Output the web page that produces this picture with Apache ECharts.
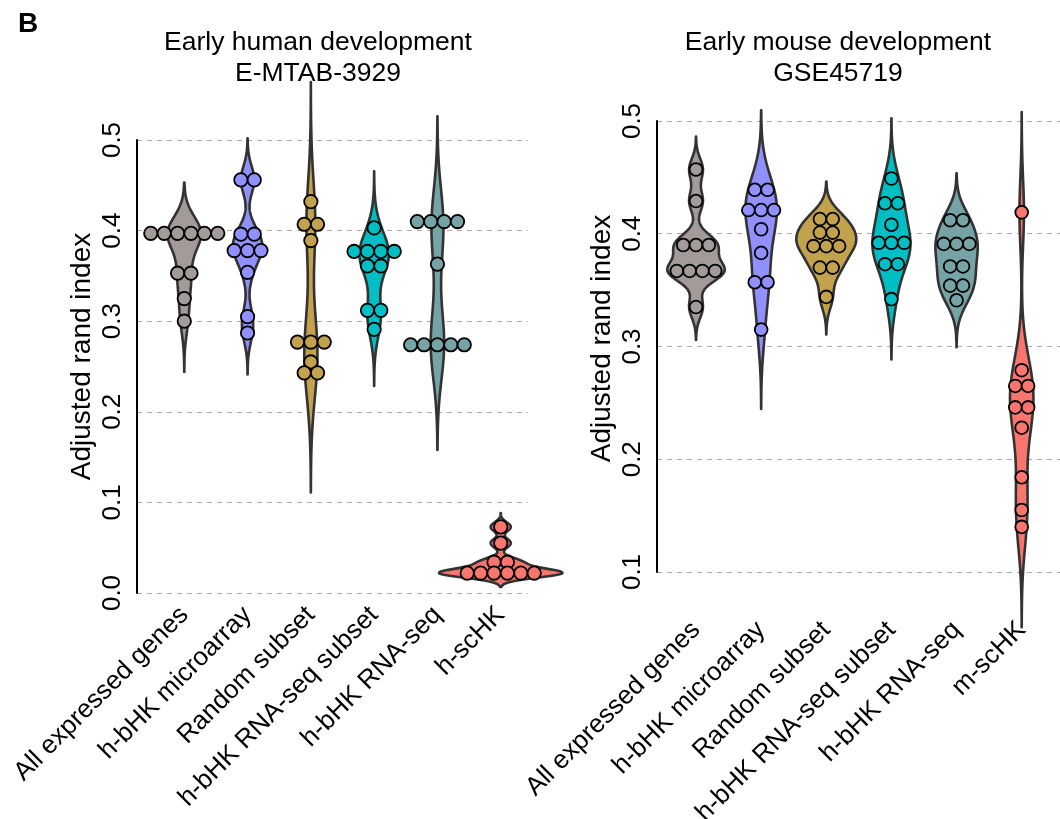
<!DOCTYPE html>
<html><head><meta charset="utf-8">
<script src="https://cdn.jsdelivr.net/npm/echarts@6/dist/echarts.min.js"></script>
<style>html,body{margin:0;padding:0;background:#fff}#c{width:1060px;height:819px}</style>
</head><body><div id="c"></div>
<script>
// ---------- data ----------
const humanCategories = ['All expressed genes','h-bHK microarray','Random subset','h-bHK RNA-seq subset','h-bHK RNA-seq','h-scHK'];
const mouseCategories = ['All expressed genes','h-bHK microarray','Random subset','h-bHK RNA-seq subset','h-bHK RNA-seq','m-scHK'];
const groupColors = ['#A39A9A','#9090FF','#C2A24C','#00BFC4','#76A4A6','#F8766D'];

const humanAllExpressed = [0.397,0.397,0.397,0.397,0.397,0.397,0.353,0.353,0.325,0.300];
const humanMicroarray   = [0.456,0.456,0.396,0.396,0.378,0.378,0.378,0.354,0.305,0.287];
const humanRandom       = [0.432,0.407,0.407,0.389,0.277,0.277,0.277,0.255,0.243,0.243];
const humanRnaSeqSubset = [0.403,0.377,0.377,0.377,0.377,0.361,0.361,0.312,0.312,0.291];
const humanRnaSeq       = [0.410,0.410,0.410,0.410,0.363,0.274,0.274,0.274,0.274,0.274];
const humanScHK         = [0.073,0.055,0.034,0.034,0.022,0.022,0.022,0.022,0.022,0.022];

const mouseAllExpressed = [0.457,0.429,0.390,0.390,0.390,0.367,0.367,0.367,0.367,0.335];
const mouseMicroarray   = [0.439,0.439,0.421,0.421,0.421,0.404,0.383,0.357,0.357,0.315];
const mouseRandom       = [0.413,0.413,0.401,0.401,0.389,0.389,0.389,0.370,0.370,0.344];
const mouseRnaSeqSubset = [0.449,0.427,0.427,0.408,0.392,0.392,0.392,0.373,0.373,0.342];
const mouseRnaSeq       = [0.412,0.412,0.391,0.391,0.391,0.371,0.371,0.354,0.354,0.341];
const mouseScHK         = [0.419,0.279,0.265,0.265,0.246,0.246,0.228,0.184,0.155,0.140];

const humanTitle = 'Early human development\nE-MTAB-3929';
const mouseTitle = 'Early mouse development\nGSE45719';
const yAxisTitle = 'Adjusted rand index';

// ---------- stats (ggplot2-like violin: gaussian KDE, nrd0 bandwidth, trim = FALSE) ----------
function q7(s, p){ const h=(s.length-1)*p, lo=Math.floor(h), hi=Math.min(lo+1,s.length-1); return s[lo]+(h-lo)*(s[hi]-s[lo]); }
function bwNrd0(x){
  const n=x.length, m=x.reduce((a,b)=>a+b,0)/n;
  const sd=Math.sqrt(x.reduce((a,b)=>a+(b-m)*(b-m),0)/(n-1));
  const s=[...x].sort((a,b)=>a-b);
  let lo=Math.min(sd,(q7(s,0.75)-q7(s,0.25))/1.34);
  if(!(lo>0)) lo = sd || Math.abs(s[0]) || 1;
  return 0.9*lo*Math.pow(n,-0.2);
}
function kde(x){
  const bw=bwNrd0(x), mn=Math.min(...x)-3*bw, mx=Math.max(...x)+3*bw, N=300, out=[];
  for(let i=0;i<N;i++){
    const y=mn+(mx-mn)*i/(N-1); let d=0;
    for(const v of x){ const u=(y-v)/bw; d+=Math.exp(-0.5*u*u); }
    out.push([y, d/(x.length*bw*Math.sqrt(2*Math.PI))]);
  }
  return out;
}
function dotItems(groups){
  const items=[];
  groups.forEach((g,i)=>{
    const counts=new Map();
    g.forEach(v=>counts.set(v,(counts.get(v)||0)+1));
    counts.forEach((n,v)=>{ for(let k=0;k<n;k++) items.push([i,v,k,n]); });
  });
  return items;
}

const FONT = "'Liberation Sans', Arial, Helvetica, sans-serif";

function panelSeries(groups, idx, widthUnits, dotR){
  const dens=groups.map(kde);
  const maxD=Math.max(...dens.map(p=>Math.max(...p.map(q=>q[1]))));
  const violin={
    type:'custom', xAxisIndex:idx, yAxisIndex:idx, silent:true, clip:false,
    data: groups.map((g,i)=>[i, g[0]]),
    renderItem:(params, api)=>{
      const i=api.value(0), pts=dens[i];
      const r=pts.map(([y,d])=>api.coord([i+d/maxD*widthUnits/2, y]));
      const l=pts.slice().reverse().map(([y,d])=>api.coord([i-d/maxD*widthUnits/2, y]));
      return {type:'polygon', shape:{points:r.concat(l)},
        style:{fill:groupColors[i], stroke:'#333333', lineWidth:2.6, lineJoin:'round'}};
    }
  };
  const dots={
    type:'custom', xAxisIndex:idx, yAxisIndex:idx, silent:true, clip:false,
    data: dotItems(groups),
    renderItem:(params, api)=>{
      const i=api.value(0), v=api.value(1), k=api.value(2), n=api.value(3);
      const c=api.coord([i,v]);
      return {type:'circle', shape:{cx:c[0]+(k-(n-1)/2)*2*dotR, cy:c[1], r:dotR},
        style:{fill:groupColors[i], stroke:'#000', lineWidth:1.8}};
    }
  };
  return [violin, dots];
}

function xAxisFor(idx, cats, min, max, margin){
  return {type:'value', gridIndex:idx, min:min, max:max,
    axisLine:{show:false, onZero:false}, axisTick:{show:false}, splitLine:{show:false},
    axisLabel:{customValues:[0,1,2,3,4,5], formatter:v=>cats[Math.round(v)], rotate:45,
      margin:margin, fontSize:26, color:'#000', fontFamily:FONT, hideOverlap:false}};
}
function yAxisFor(idx, min, max, gap, shift){
  return {type:'value', gridIndex:idx, min:min, max:max, interval:0.1,
    name:yAxisTitle, nameLocation:'middle', nameRotate:90, nameGap:gap,
    nameTextStyle:{fontSize:28, color:'#000', fontFamily:FONT, padding:[0,0,0,shift]},
    axisLine:{show:true, onZero:false, lineStyle:{color:'#000', width:2}},
    axisTick:{show:false},
    axisLabel:{rotate:90, margin:11, fontSize:26, color:'#000', fontFamily:FONT, formatter:v=>v.toFixed(1)},
    splitLine:{show:true, lineStyle:{color:'#AAAAAA', type:[5,5], width:1}}};
}

const humanGroups=[humanAllExpressed,humanMicroarray,humanRandom,humanRnaSeqSubset,humanRnaSeq,humanScHK];
const mouseGroups=[mouseAllExpressed,mouseMicroarray,mouseRandom,mouseRnaSeqSubset,mouseRnaSeq,mouseScHK];

const chart=echarts.init(document.getElementById('c'), null, {renderer:'canvas'});
chart.setOption({
  backgroundColor:'#fff',
  animation:false,
  textStyle:{fontFamily:FONT},
  title:[
    {text:humanTitle, left:313, top:22, textAlign:'center',
     textStyle:{fontSize:26.5, fontWeight:'normal', color:'#000', lineHeight:31, fontFamily:FONT}},
    {text:mouseTitle, left:833, top:22, textAlign:'center',
     textStyle:{fontSize:26.5, fontWeight:'normal', color:'#000', lineHeight:31, fontFamily:FONT}}
  ],
  graphic:[{type:'text', left:18, top:10, style:{text:'B', font:"bold 28px 'Liberation Sans', Arial, sans-serif", fill:'#000'}}],
  grid:[
    {left:137, top:140, width:391, height:453, outerBoundsMode:'none', containLabel:false},
    {left:657, top:121, width:403, height:451, outerBoundsMode:'none', containLabel:false}
  ],
  xAxis:[
    xAxisFor(0, humanCategories, -0.747, 5.431, 18),
    xAxisFor(1, mouseCategories, -0.599, 5.588, 54)
  ],
  yAxis:[
    yAxisFor(0, 0, 0.5, 41, 20),
    yAxisFor(1, 0.1, 0.5, 41, 16)
  ],
  series:[
    ...panelSeries(humanGroups, 0, 1.95, 6.7),
    ...panelSeries(mouseGroups, 1, 0.92, 6.4)
  ]
});
</script></body></html>
